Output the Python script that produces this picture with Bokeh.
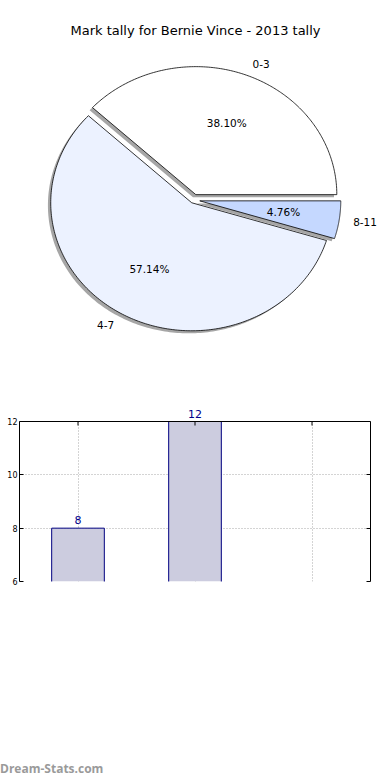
import numpy as np
from bokeh.plotting import figure
from bokeh.models import (Range1d, LinearAxis, FixedTicker, ColumnDataSource,
                          LabelSet, Label, Div, Span)
from bokeh.layouts import column
from bokeh.core.properties import value
from bokeh.embed import file_html
from bokeh.resources import INLINE

# ---------------- data ----------------
title_text = "Mark tally for Bernie Vince - 2013 tally"
categories = ["0-3", "4-7", "8-11"]
counts = [8, 12, 1]
pie_colors = ["#ffffff", "#ecf2ff", "#c5d8ff"]
explode = [0.045, 0.025, 0.045]
bar_yticks = [6, 8, 10, 12]
watermark = "Dream-Stats.com"

FONT = value("DejaVu Sans")

# ---------------- pie ----------------
PW, PH = 390, 400
PXX, PXY = 141.0, 128.0          # pixels per data unit (elliptical pie)
CX, CY = 193.0, 199.5            # pie centre in figure pixels (from top-left)
x0 = -CX / PXX
y1 = CY / PXY
pie = figure(width=PW, height=PH, output_backend="svg", toolbar_location=None,
             x_range=Range1d(x0, x0 + PW / PXX), y_range=Range1d(y1 - PH / PXY, y1),
             x_axis_type=None, y_axis_type=None, min_border=0)
pie.outline_line_color = None
pie.xgrid.visible = False
pie.ygrid.visible = False
if "frame_align" in pie.properties():
    pie.frame_align = False

vals = np.array(counts, dtype=float)
frac = vals / vals.sum()
edges = np.concatenate([[0.0], np.cumsum(frac)]) * 2 * np.pi
sdx, sdy = -0.02, -0.02
for i, cat in enumerate(categories):
    a0, a1 = edges[i], edges[i + 1]
    mid = 0.5 * (a0 + a1)
    ax = explode[i] * np.cos(mid)
    ay = explode[i] * np.sin(mid)
    t = np.linspace(a0, a1, 200)
    xs = np.concatenate([[ax], ax + np.cos(t), [ax]])
    ys = np.concatenate([[ay], ay + np.sin(t), [ay]])
    pie.patch(xs + sdx, ys + sdy, fill_color="#4d4d4d", fill_alpha=0.5, line_color=None)
    pie.patch(xs, ys, fill_color=pie_colors[i], line_color="black", line_width=0.8)
    lx = ax + 1.1 * np.cos(mid)
    ly = ay + 1.1 * np.sin(mid)
    pie.text(x=[lx], y=[ly], text=[cat], text_align="left" if lx > 0 else "right",
             text_baseline="middle", text_font=FONT, text_font_size="10.5px",
             text_color="black")
    px_ = ax + 0.6 * np.cos(mid)
    py_ = ay + 0.6 * np.sin(mid)
    pie.text(x=[px_], y=[py_], text=["%.2f%%" % (100 * frac[i])], text_align="center",
             text_baseline="middle", text_font=FONT, text_font_size="10.5px",
             text_color="black")

pie.add_layout(Label(x=x0 + 195 / PXX, y=y1 - 30 / PXY, text=title_text,
                     text_align="center", text_baseline="middle",
                     text_font="DejaVu Sans", text_font_size="13px", text_color="black"))

# ---------------- bars ----------------
BW, BH = 390, 363
TOP_PAD = 21                      # px between figure top and the y=12 spine
FRAME_H = 181
ppu = (FRAME_H - TOP_PAD) / (bar_yticks[-1] - bar_yticks[0])
ytop = bar_yticks[-1] + TOP_PAD / ppu
xs_idx = list(range(len(categories)))
BAR_W = 0.45
bar = figure(width=BW, height=BH, output_backend="svg", toolbar_location=None,
             x_range=Range1d(-0.5, len(categories) - 0.5),
             y_range=Range1d(bar_yticks[0], ytop),
             x_axis_location=None, y_axis_location="left",
             min_border_top=0, min_border_left=19, min_border_right=20,
             min_border_bottom=BH - FRAME_H)
bar.outline_line_color = None
if "frame_align" in bar.properties():
    bar.frame_align = False

ybounds = (bar_yticks[0], bar_yticks[-1])
bar.xgrid.ticker = FixedTicker(ticks=xs_idx)
bar.ygrid.ticker = FixedTicker(ticks=bar_yticks)
if "cross_bounds" in bar.xgrid.properties():
    bar.xgrid.cross_bounds = ybounds
for g in (bar.xgrid, bar.ygrid):
    g.grid_line_color = "#a8a8a8"
    g.grid_line_dash = "1 2"
    g.grid_line_width = 1

# bars visible inside the cut-off y range: fill, then outline edges (left, right, top)
vis = [i for i, c in enumerate(counts) if c > bar_yticks[0]]
src = ColumnDataSource(dict(x=[xs_idx[i] for i in vis], top=[counts[i] for i in vis],
                            left=[xs_idx[i] - BAR_W / 2 for i in vis],
                            right=[xs_idx[i] + BAR_W / 2 for i in vis],
                            zero=[0] * len(vis)))
bar.vbar(x="x", top="top", bottom=0, width=BAR_W, source=src,
         fill_color="#ccccdf", line_color=None)
bar.segment(x0="left", y0="zero", x1="left", y1="top", source=src, line_color="#000080", line_width=1)
bar.segment(x0="right", y0="zero", x1="right", y1="top", source=src, line_color="#000080", line_width=1)
bar.segment(x0="left", y0="top", x1="right", y1="top", source=src, line_color="#000080", line_width=1)

# axes / spines
yax = bar.yaxis[0]
yax.ticker = FixedTicker(ticks=bar_yticks)
yax.bounds = ybounds
yax.major_tick_in = 4
yax.major_tick_out = 0
yax.minor_tick_line_color = None
yax.axis_line_color = "black"
yax.major_label_text_font = "DejaVu Sans"
yax.major_label_text_font_size = "8px"
yax.major_label_text_color = "black"
yax.major_label_standoff = 2

rax = LinearAxis(ticker=FixedTicker(ticks=bar_yticks), bounds=ybounds,
                 major_tick_in=4, major_tick_out=0,
                 minor_tick_line_color=None, axis_line_color="black",
                 major_label_overrides={t: "" for t in bar_yticks},
                 major_label_standoff=0)
bar.add_layout(rax, "right")
bar.add_layout(Span(location=bar_yticks[-1], dimension="width", line_color="black", line_width=1))
tick_len = 4 / ppu
bar.segment(x0=xs_idx, y0=[bar_yticks[-1]] * len(xs_idx), x1=xs_idx,
            y1=[bar_yticks[-1] - tick_len] * len(xs_idx), line_color="black", line_width=1)

lab_src = ColumnDataSource(dict(x=[xs_idx[i] for i in vis], y=[counts[i] for i in vis],
                                t=[str(counts[i]) for i in vis]))
bar.add_layout(LabelSet(x="x", y="y", text="t", source=lab_src, text_align="center",
                        text_baseline="bottom", y_offset=4, text_font=FONT,
                        text_font_size="11px", text_color="#00008b"))

div = Div(text=watermark, width=200, height=12, margin=0,
          styles={"font-family": "Open Sans", "font-weight": "bold", "font-size": "12px",
                  "color": "#9a9a9a", "line-height": "12px"})

layout = column(pie, bar, div, spacing=0)
open("out.html", "w").write(file_html(layout, INLINE))
